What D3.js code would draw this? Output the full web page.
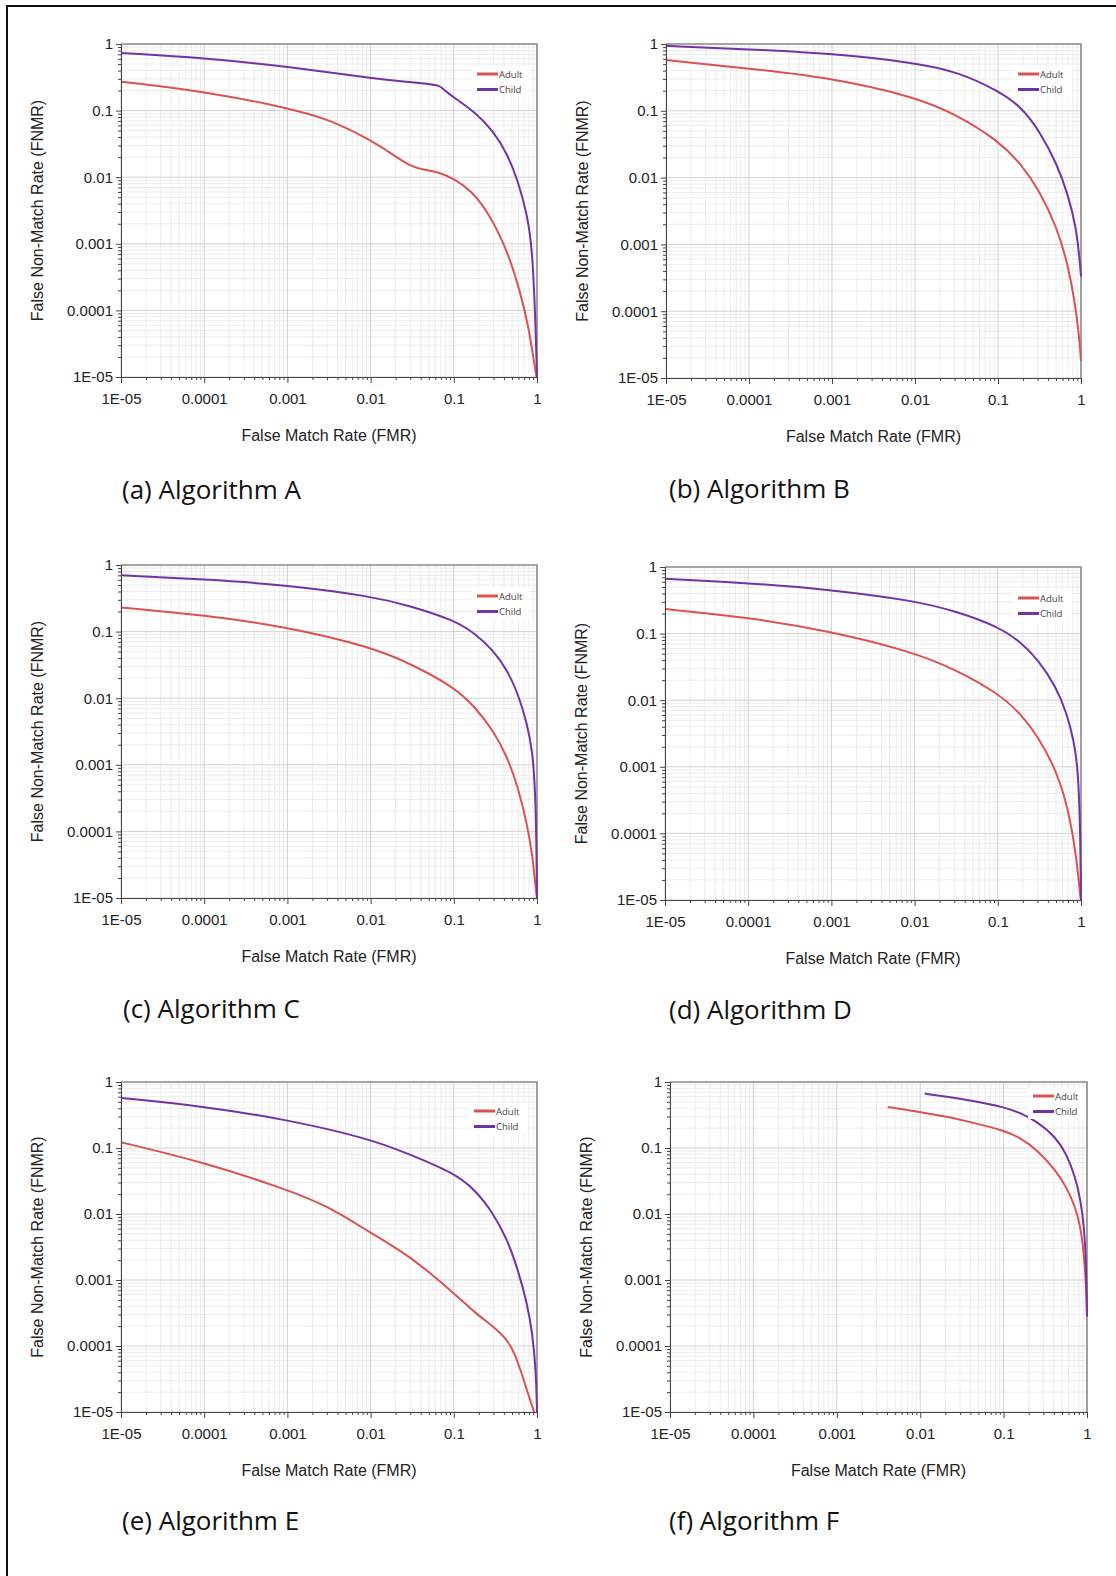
<!DOCTYPE html>
<html>
<head>
<meta charset="utf-8">
<script src="https://cdn.jsdelivr.net/npm/d3@7"></script>
<style>
  body { margin: 0; background: #fff; }
  svg { display: block; }
  .tick text { font-family: "Liberation Sans", Arial, sans-serif; font-size: 15px; fill: #222; }
</style>
</head>
<body>
<svg id="fig" width="1116" height="1576"></svg>
<script>
// shared axis ticks (both axes are log, 1E-05 .. 1)
const decades = [1e-5, 1e-4, 1e-3, 1e-2, 1e-1, 1];
const tickLabels = ["1E-05", "0.0001", "0.001", "0.01", "0.1", "1"];
const seriesNames = ["Adult", "Child"];
const captions = ["(a) Algorithm A", "(b) Algorithm B", "(c) Algorithm C",
                  "(d) Algorithm D", "(e) Algorithm E", "(f) Algorithm F"];

// [FMR, FNMR]
const algA_adult = [[1e-5,0.272],[1e-4,0.195],[1e-3,0.11],[0.00312,0.075],[0.01,0.0363],[0.0185,0.0219],[0.0303,0.0145],[0.045,0.0128],[0.067,0.0119],[0.1,0.00944],[0.163,0.0063],[0.268,0.0028],[0.44,0.00079],[0.622,0.0002],[0.796,5.6e-5],[0.94,1.4e-5],[0.99,1e-5]];
const algA_child = [[1e-5,0.733],[1e-4,0.62],[1e-3,0.457],[0.01,0.31],[0.0185,0.285],[0.04,0.258],[0.067,0.245],[0.0778,0.2],[0.1,0.158],[0.18,0.0944],[0.296,0.05],[0.44,0.0224],[0.59,0.0089],[0.758,0.0028],[0.88,0.00089],[0.97,4.5e-5],[1,1e-5]];

const algB_adult = [[1e-5,0.575],[1e-4,0.43],[1e-3,0.31],[0.01,0.162],[0.0326,0.086],[0.1,0.036],[0.19,0.016],[0.313,0.0065],[0.513,0.0018],[0.689,0.00052],[0.838,0.000145],[0.943,4.6e-5],[1,1.8e-5]];
const algB_child = [[1e-5,0.94],[1e-4,0.83],[1e-3,0.72],[0.01,0.525],[0.0326,0.385],[0.1,0.2],[0.19,0.115],[0.313,0.051],[0.513,0.016],[0.689,0.0058],[0.88,0.0018],[0.98,0.00046],[1,0.00033]];

const algC_adult = [[1e-5,0.231],[1e-4,0.177],[1e-3,0.118],[0.01,0.059],[0.0303,0.033],[0.1,0.0148],[0.18,0.0074],[0.296,0.0033],[0.44,0.00131],[0.59,0.000466],[0.758,0.000131],[0.88,4.5e-5],[0.97,1.3e-5],[1,1e-5]];
const algC_child = [[1e-5,0.7],[1e-4,0.61],[1e-3,0.5],[0.01,0.342],[0.0303,0.242],[0.1,0.149],[0.18,0.094],[0.296,0.053],[0.44,0.0264],[0.59,0.0118],[0.758,0.0042],[0.88,0.00166],[0.97,0.00033],[1,1e-5]];

const algD_adult = [[1e-5,0.234],[1e-4,0.175],[1e-3,0.108],[0.01,0.052],[0.0315,0.0286],[0.1,0.0128],[0.186,0.0064],[0.305,0.00285],[0.5,0.0009],[0.673,0.000284],[0.82,8e-5],[0.925,2.5e-5],[0.98,1.1e-5],[1,1e-5]];
const algD_child = [[1e-5,0.668],[1e-4,0.575],[1e-3,0.456],[0.01,0.312],[0.0315,0.216],[0.1,0.128],[0.186,0.076],[0.305,0.0405],[0.5,0.016],[0.673,0.0064],[0.82,0.0025],[0.925,0.00089],[0.98,0.000112],[1,1e-5]];

const algE_adult = [[1e-5,0.122],[1e-4,0.0607],[1e-3,0.0234],[0.00312,0.0131],[0.01,0.00515],[0.0303,0.00228],[0.1,0.000636],[0.18,0.000316],[0.296,0.0002],[0.44,0.000125],[0.536,7.8e-5],[0.653,3.9e-5],[0.796,1.74e-5],[0.925,1e-5]];
const algE_child = [[1e-5,0.573],[1e-4,0.428],[1e-3,0.269],[0.01,0.137],[0.0303,0.079],[0.1,0.0418],[0.18,0.0234],[0.296,0.0104],[0.44,0.0041],[0.59,0.00144],[0.758,0.00045],[0.88,0.000158],[0.97,4.4e-5],[1,1e-5]];

const algF_adult = [[0.00408,0.419],[0.00993,0.352],[0.0218,0.296],[0.0435,0.24],[0.0995,0.186],[0.157,0.144],[0.256,0.0926],[0.42,0.0461],[0.565,0.0258],[0.723,0.0129],[0.838,0.0064],[0.925,0.00226],[0.98,0.0007],[1,0.00028]];
const algF_child = [[0.01127,0.667],[0.0218,0.593],[0.0435,0.516],[0.0995,0.419],[0.157,0.344],[0.256,0.248],[0.42,0.147],[0.565,0.0824],[0.723,0.0366],[0.838,0.0162],[0.925,0.0064],[0.98,0.0016],[1,0.00028]];

const panelSeries = [
  [algA_adult, algA_child], [algB_adult, algB_child], [algC_adult, algC_child],
  [algD_adult, algD_child], [algE_adult, algE_child], [algF_adult, algF_child]
];

const colors = ["#dc5252", "#7232a8"];

// plot boxes, caption spot and legend offset for each panel
const layout = [
  {l:121, r:537, t:44,   b:377,  cx:122, cy:499,  lt:30, lr:60},
  {l:666, r:1081, t:44,  b:378,  cx:669, cy:498,  lt:30, lr:63},
  {l:121, r:537, t:565,  b:898,  cx:123, cy:1018, lt:31, lr:60},
  {l:665, r:1081, t:567, b:900,  cx:669, cy:1019, lt:31, lr:63},
  {l:121, r:537, t:1082, b:1412, cx:122, cy:1530, lt:29, lr:63},
  {l:670, r:1087, t:1082, b:1412, cx:669, cy:1530, lt:14, lr:54}
];

var minorTicks = [];
decades.slice(0, -1).forEach(d => { for (var i = 2; i < 10; i++) minorTicks.push(d * i); });

var svg = d3.select('#fig');

// outer frame (top + left only)
svg.append('path')
  .attr('d', 'M1116,6 H7 V1576')
  .attr('fill', 'none').attr('stroke', '#111').attr('stroke-width', 2);

layout.forEach((p, k) => {
  var x = d3.scaleLog().domain([1e-5, 1]).range([p.l, p.r]);
  var y = d3.scaleLog().domain([1e-5, 1]).range([p.b, p.t]);
  var g = svg.append('g');

  // grid
  g.selectAll('.vmin').data(minorTicks).enter().append('line')
    .attr('x1', d => x(d)).attr('x2', d => x(d)).attr('y1', p.t).attr('y2', p.b)
    .attr('stroke', '#ececec').attr('stroke-width', 1);
  g.selectAll('.hmin').data(minorTicks).enter().append('line')
    .attr('y1', d => y(d)).attr('y2', d => y(d)).attr('x1', p.l).attr('x2', p.r)
    .attr('stroke', '#ececec').attr('stroke-width', 1);
  g.selectAll('.vmaj').data(decades).enter().append('line')
    .attr('x1', d => x(d)).attr('x2', d => x(d)).attr('y1', p.t).attr('y2', p.b)
    .attr('stroke', '#d2d2d2').attr('stroke-width', 1);
  g.selectAll('.hmaj').data(decades).enter().append('line')
    .attr('y1', d => y(d)).attr('y2', d => y(d)).attr('x1', p.l).attr('x2', p.r)
    .attr('stroke', '#d2d2d2').attr('stroke-width', 1);

  // top / right frame
  g.append('path')
    .attr('d', `M${p.l},${p.t} H${p.r} V${p.b}`)
    .attr('fill', 'none').attr('stroke', '#8e8e8e').attr('stroke-width', 1.6);

  // curves
  var clipId = 'clip' + k;
  svg.append('clipPath').attr('id', clipId).append('rect')
    .attr('x', p.l - 1).attr('y', p.t - 1).attr('width', p.r - p.l + 2).attr('height', p.b - p.t + 2);
  var line = d3.line().x(d => x(d[0])).y(d => y(d[1])).curve(d3.curveBasis);
  panelSeries[k].forEach((s, i) => {
    g.append('path').datum(s)
      .attr('d', line)
      .attr('clip-path', `url(#${clipId})`)
      .attr('fill', 'none').attr('stroke', colors[i]).attr('stroke-width', 2)
      .attr('stroke-linejoin', 'round');
  });

  // axes: minor ticks then labelled decades
  g.append('g').attr('transform', `translate(0,${p.b})`)
    .call(d3.axisBottom(x).tickValues(minorTicks).tickSize(3).tickFormat(''))
    .call(a => a.select('.domain').remove())
    .selectAll('line').attr('stroke', '#444');
  var xa = g.append('g').attr('transform', `translate(0,${p.b})`)
    .call(d3.axisBottom(x).tickValues(decades).tickSize(6).tickPadding(10)
      .tickFormat((d, i) => tickLabels[i]));
  xa.select('.domain').attr('stroke', '#444');
  xa.selectAll('line').attr('stroke', '#444');

  g.append('g').attr('transform', `translate(${p.l},0)`)
    .call(d3.axisLeft(y).tickValues(minorTicks).tickSize(3).tickFormat(''))
    .call(a => a.select('.domain').remove())
    .selectAll('line').attr('stroke', '#444');
  var ya = g.append('g').attr('transform', `translate(${p.l},0)`)
    .call(d3.axisLeft(y).tickValues(decades).tickSize(5).tickPadding(3)
      .tickFormat((d, i) => tickLabels[i]));
  ya.select('.domain').attr('stroke', '#444');
  ya.selectAll('line').attr('stroke', '#444');

  // axis titles
  g.append('text')
    .attr('x', (p.l + p.r) / 2).attr('y', p.b + 64)
    .attr('text-anchor', 'middle')
    .style('font-family', '"Liberation Sans", Arial, sans-serif').style('font-size', '16px').style('fill', '#222')
    .text('False Match Rate (FMR)');
  g.append('text')
    .attr('transform', `translate(${p.l - 78},${(p.t + p.b) / 2}) rotate(-90)`)
    .attr('text-anchor', 'middle')
    .style('font-family', '"Liberation Sans", Arial, sans-serif').style('font-size', '16px').style('fill', '#222')
    .text('False Non-Match Rate (FNMR)');

  // legend
  var lx = p.r - p.lr, ly = p.t + p.lt;
  g.append('rect').attr('x', lx - 5).attr('y', ly - 8).attr('width', 58).attr('height', 31).attr('fill', '#fff');
  seriesNames.forEach((n, i) => {
    g.append('line').attr('x1', lx).attr('x2', lx + 21).attr('y1', ly + i * 15.5).attr('y2', ly + i * 15.5)
      .attr('stroke', colors[i]).attr('stroke-width', 3);
    g.append('text').attr('x', lx + 22).attr('y', ly + i * 15.5 + 3.5)
      .style('font-family', '"Open Sans", sans-serif').style('font-size', '9.5px').style('fill', '#444')
      .text(n);
  });

  // caption
  svg.append('text').attr('x', p.cx).attr('y', p.cy)
    .style('font-family', '"Open Sans", sans-serif').style('font-size', '26px').style('fill', '#111')
    .text(captions[k]);
});
</script>
</body>
</html>
